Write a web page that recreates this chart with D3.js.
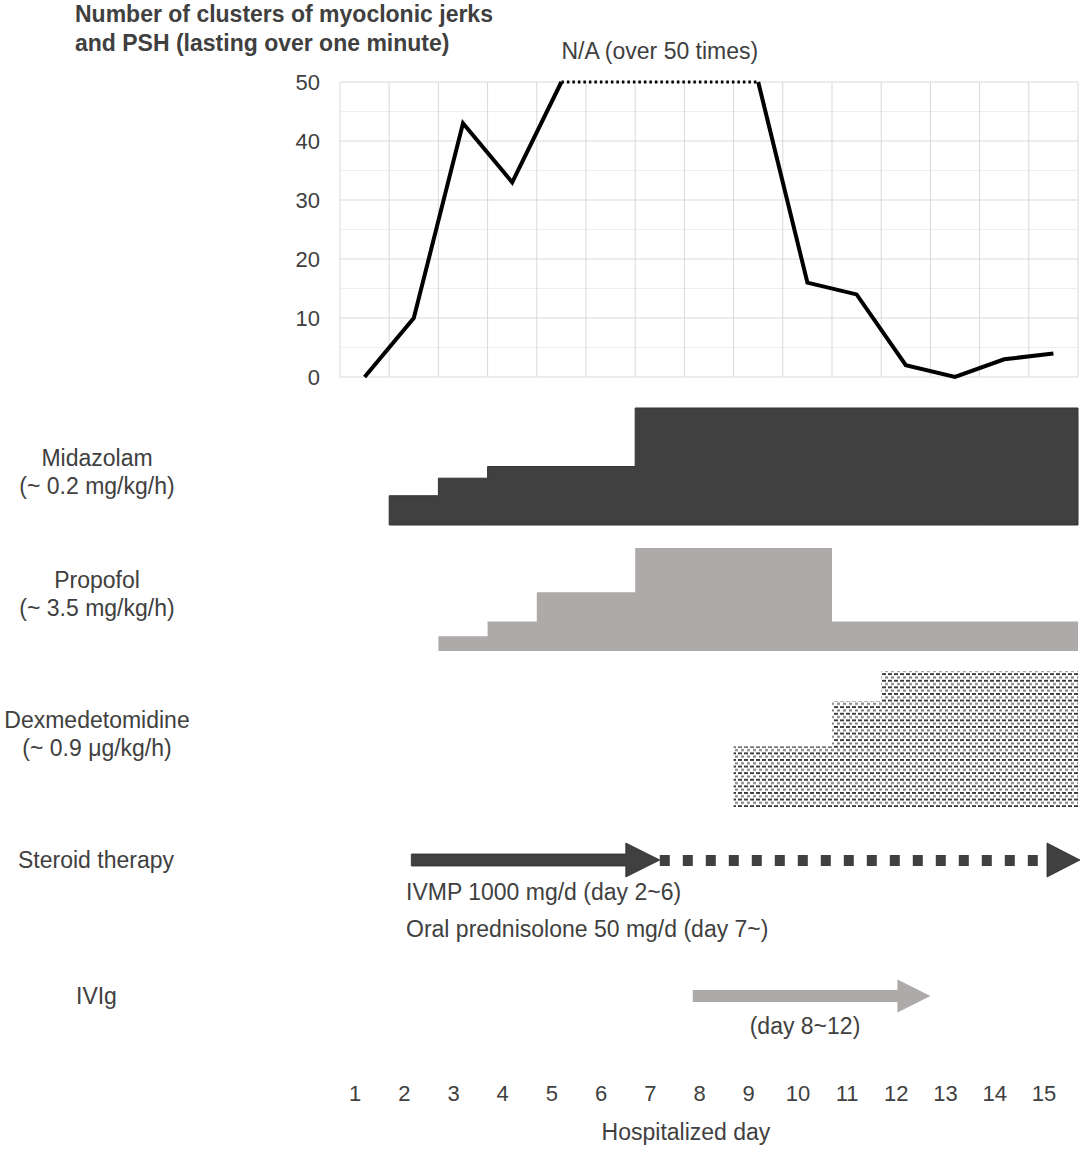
<!DOCTYPE html>
<meta charset="utf-8">
<style>
    body {
        margin: 0;
        background: #fff;
    }

    text {
        font-family: "Liberation Sans", Arial, sans-serif;
        font-size: 23px;
        fill: #404040;
    }

    .title {
        font-weight: 700;
    }

    .grid line {
        stroke: #d9d9d9;
        stroke-width: 1;
    }

    .grid .minor {
        stroke: #efefef;
    }

    .count-line {
        fill: none;
        stroke: #000;
        stroke-width: 4px;
        stroke-linejoin: miter;
    }

    .na-line {
        fill: none;
        stroke: #000;
        stroke-width: 3px;
        stroke-dasharray: 2.5 3;
    }
</style>
<svg id="chart" width="1085" height="1149"></svg>
<script src="https://cdn.jsdelivr.net/npm/d3@7"></script>
<script>
    // ---- data ----
    var days = [1, 2, 3, 4, 5, 6, 7, 8, 9, 10, 11, 12, 13, 14, 15];
    // null = N/A (over 50 times), drawn at the cap value
    var clusterCounts = [0, 10, 43, 33, null, null, null, null, null, 16, 14, 2, 0, 3, 4];
    var naCap = 50;
    var countTicks = [0, 10, 20, 30, 40, 50];

    var midazolamDose = [0, 0.05, 0.08, 0.1, 0.1, 0.1, 0.2, 0.2, 0.2, 0.2, 0.2, 0.2, 0.2, 0.2, 0.2]; // mg/kg/h
    var propofolDose = [0, 0, 0.5, 1, 2, 2, 3.5, 3.5, 3.5, 3.5, 1, 1, 1, 1, 1];                       // mg/kg/h
    var dexmedDose = [0, 0, 0, 0, 0, 0, 0, 0, 0.4, 0.4, 0.7, 0.9, 0.9, 0.9, 0.9];                     // ug/kg/h

    // arrows, in days since admission (0 = start of day 1)
    var steroidIvmp = [1.45, 6.5];
    var steroidOral = [6.5, 15];
    var ivig = [7.17, 12];

    var svg = d3.select("#chart");

    // time scale: t in [0,15], day d spans [d-1, d]
    var x = d3.scaleLinear().domain([0, 15]).range([340, 1078]);
    var y = d3.scaleLinear().domain([0, 50]).range([377, 82]);

    // ---- title ----
    svg.append("text").attr("class", "title").attr("x", 75).attr("y", 22)
        .text("Number of clusters of myoclonic jerks");
    svg.append("text").attr("class", "title").attr("x", 75).attr("y", 51)
        .text("and PSH (lasting over one minute)");
    svg.append("text").attr("x", x(6.5)).attr("y", 59).attr("text-anchor", "middle")
        .text("N/A (over 50 times)");

    // ---- grid ----
    var grid = svg.append("g").attr("class", "grid");
    grid.selectAll(".minor").data(d3.range(5, 50, 10)).enter().append("line")
        .attr("class", "minor")
        .attr("x1", x(0)).attr("x2", x(15))
        .attr("y1", d => y(d)).attr("y2", d => y(d));
    grid.selectAll(".major").data(countTicks).enter().append("line")
        .attr("class", "major")
        .attr("x1", x(0)).attr("x2", x(15))
        .attr("y1", d => y(d)).attr("y2", d => y(d));
    grid.selectAll(".vert").data(d3.range(0, 16)).enter().append("line")
        .attr("class", "vert")
        .attr("x1", d => x(d)).attr("x2", d => x(d))
        .attr("y1", y(50)).attr("y2", y(0));

    // y axis labels
    var yAxis = svg.append("g")
        .attr("transform", "translate(" + x(0) + ",0)")
        .call(d3.axisLeft(y).tickValues(countTicks).tickSize(0).tickPadding(20));
    yAxis.select(".domain").remove();
    yAxis.selectAll("text").style("font-size", "22px").attr("fill", "#404040")
        .style("font-family", "\"Liberation Sans\", Arial, sans-serif");

    // ---- counts line ----
    var pts = days.map(function (d, i) {
        return { t: d - 0.5, v: clusterCounts[i] == null ? naCap : clusterCounts[i], na: clusterCounts[i] == null, i: i };
    });
    var isNA = i => i >= 0 && i < pts.length && pts[i].na;

    var solid = d3.line()
        .defined(d => !(d.na && isNA(d.i - 1) && isNA(d.i + 1)))
        .x(d => x(d.t)).y(d => y(d.v));
    svg.append("path").attr("class", "count-line").attr("d", solid(pts));

    var dotted = d3.line().x(d => x(d.t)).y(d => y(d.v));
    svg.append("path").attr("class", "na-line").attr("d", dotted(pts.filter(d => d.na)));

    // ---- drug step areas ----
    function stepPoints(doses) {
        var p = doses.map((v, i) => ({ t: i, v: v }));
        p.push({ t: doses.length, v: doses[doses.length - 1] });
        return p;
    }

    var defs = svg.append("defs");
    var pat = defs.append("pattern").attr("id", "dexPat")
        .attr("patternUnits", "userSpaceOnUse")
        .attr("width", 6).attr("height", 6.6);
    pat.append("rect").attr("x", 0).attr("y", 0).attr("width", 4).attr("height", 1.9).attr("fill", "#3a3a3a");
    pat.append("rect").attr("x", 3).attr("y", 3.3).attr("width", 4).attr("height", 1.9).attr("fill", "#767676");

    var drugs = [
        { name: "Midazolam", dose: "(~ 0.2 mg/kg/h)", values: midazolamDose, max: 0.2, base: 525, top: 408, fill: "#404040", stroke: "#333", labelY: 466 },
        { name: "Propofol", dose: "(~ 3.5 mg/kg/h)", values: propofolDose, max: 3.5, base: 651, top: 548, fill: "#aeaaaa", stroke: "none", labelY: 588 },
        { name: "Dexmedetomidine", dose: "(~ 0.9 \u03bcg/kg/h)", values: dexmedDose, max: 0.9, base: 807, top: 671, fill: "url(#dexPat)", stroke: "none", labelY: 728 }
    ];

    drugs.forEach(function (dr) {
        var yd = d3.scaleLinear().domain([0, dr.max]).range([dr.base, dr.top]);
        var pts = stepPoints(dr.values);
        var first = pts.findIndex(p => p.v > 0);
        var area = d3.area().curve(d3.curveStepAfter)
            .x(d => x(d.t)).y0(dr.base).y1(d => yd(d.v));
        svg.append("path")
            .attr("d", area(pts.slice(first)))
            .attr("fill", dr.fill)
            .attr("stroke", dr.stroke)
            .attr("stroke-width", 1);

        svg.append("text").attr("x", 97).attr("y", dr.labelY).attr("text-anchor", "middle").text(dr.name);
        svg.append("text").attr("x", 97).attr("y", dr.labelY + 28).attr("text-anchor", "middle").text(dr.dose);
    });

    // ---- arrows ----
    function arrowPath(x0, x1, cy, shaft, head, headLen) {
        return "M" + x0 + "," + (cy - shaft) +
            "L" + (x1 - headLen) + "," + (cy - shaft) +
            "L" + (x1 - headLen) + "," + (cy - head) +
            "L" + x1 + "," + cy +
            "L" + (x1 - headLen) + "," + (cy + head) +
            "L" + (x1 - headLen) + "," + (cy + shaft) +
            "L" + x0 + "," + (cy + shaft) + "Z";
    }

    var steroidY = 860;
    svg.append("text").attr("x", 18).attr("y", steroidY + 8).text("Steroid therapy");
    svg.append("path")
        .attr("d", arrowPath(x(steroidIvmp[0]), x(steroidIvmp[1]), steroidY, 6, 17, 34))
        .attr("fill", "#404040").attr("stroke", "#2a2a2a").attr("stroke-width", 0.8);
    svg.append("line")
        .attr("x1", x(steroidOral[0])).attr("x2", x(steroidOral[1]) - 32)
        .attr("y1", steroidY + 0.5).attr("y2", steroidY + 0.5)
        .attr("stroke", "#404040").attr("stroke-width", 11)
        .attr("stroke-dasharray", "10 13");
    var tipX = x(steroidOral[1]) + 2;
    svg.append("path")
        .attr("d", "M" + (tipX - 33) + "," + (steroidY - 17) + "L" + tipX + "," + steroidY + "L" + (tipX - 33) + "," + (steroidY + 17) + "Z")
        .attr("fill", "#404040").attr("stroke", "#2a2a2a").attr("stroke-width", 0.8);
    svg.append("text").attr("x", 406).attr("y", 900).text("IVMP 1000 mg/d (day 2~6)");
    svg.append("text").attr("x", 406).attr("y", 937).text("Oral prednisolone 50 mg/d (day 7~)");

    var ivigY = 996;
    svg.append("text").attr("x", 76).attr("y", ivigY + 8).text("IVIg");
    svg.append("path")
        .attr("d", arrowPath(x(ivig[0]), x(ivig[1]), ivigY, 6, 16.5, 33))
        .attr("fill", "#aeaaaa");
    svg.append("text").attr("x", 805).attr("y", 1034).attr("text-anchor", "middle").text("(day 8~12)");

    // ---- bottom day axis ----
    var xDay = d3.scaleLinear().domain([0.5, 15.5]).range([330, 1068]);
    var xAxis = svg.append("g")
        .attr("transform", "translate(0,1080)")
        .call(d3.axisBottom(xDay).tickValues(days).tickSize(0).tickPadding(5).tickFormat(d3.format("d")));
    xAxis.select(".domain").remove();
    xAxis.selectAll("text").style("font-size", "22px").attr("fill", "#404040")
        .style("font-family", "\"Liberation Sans\", Arial, sans-serif");

    svg.append("text").attr("x", 686).attr("y", 1140).attr("text-anchor", "middle").text("Hospitalized day");
</script>
